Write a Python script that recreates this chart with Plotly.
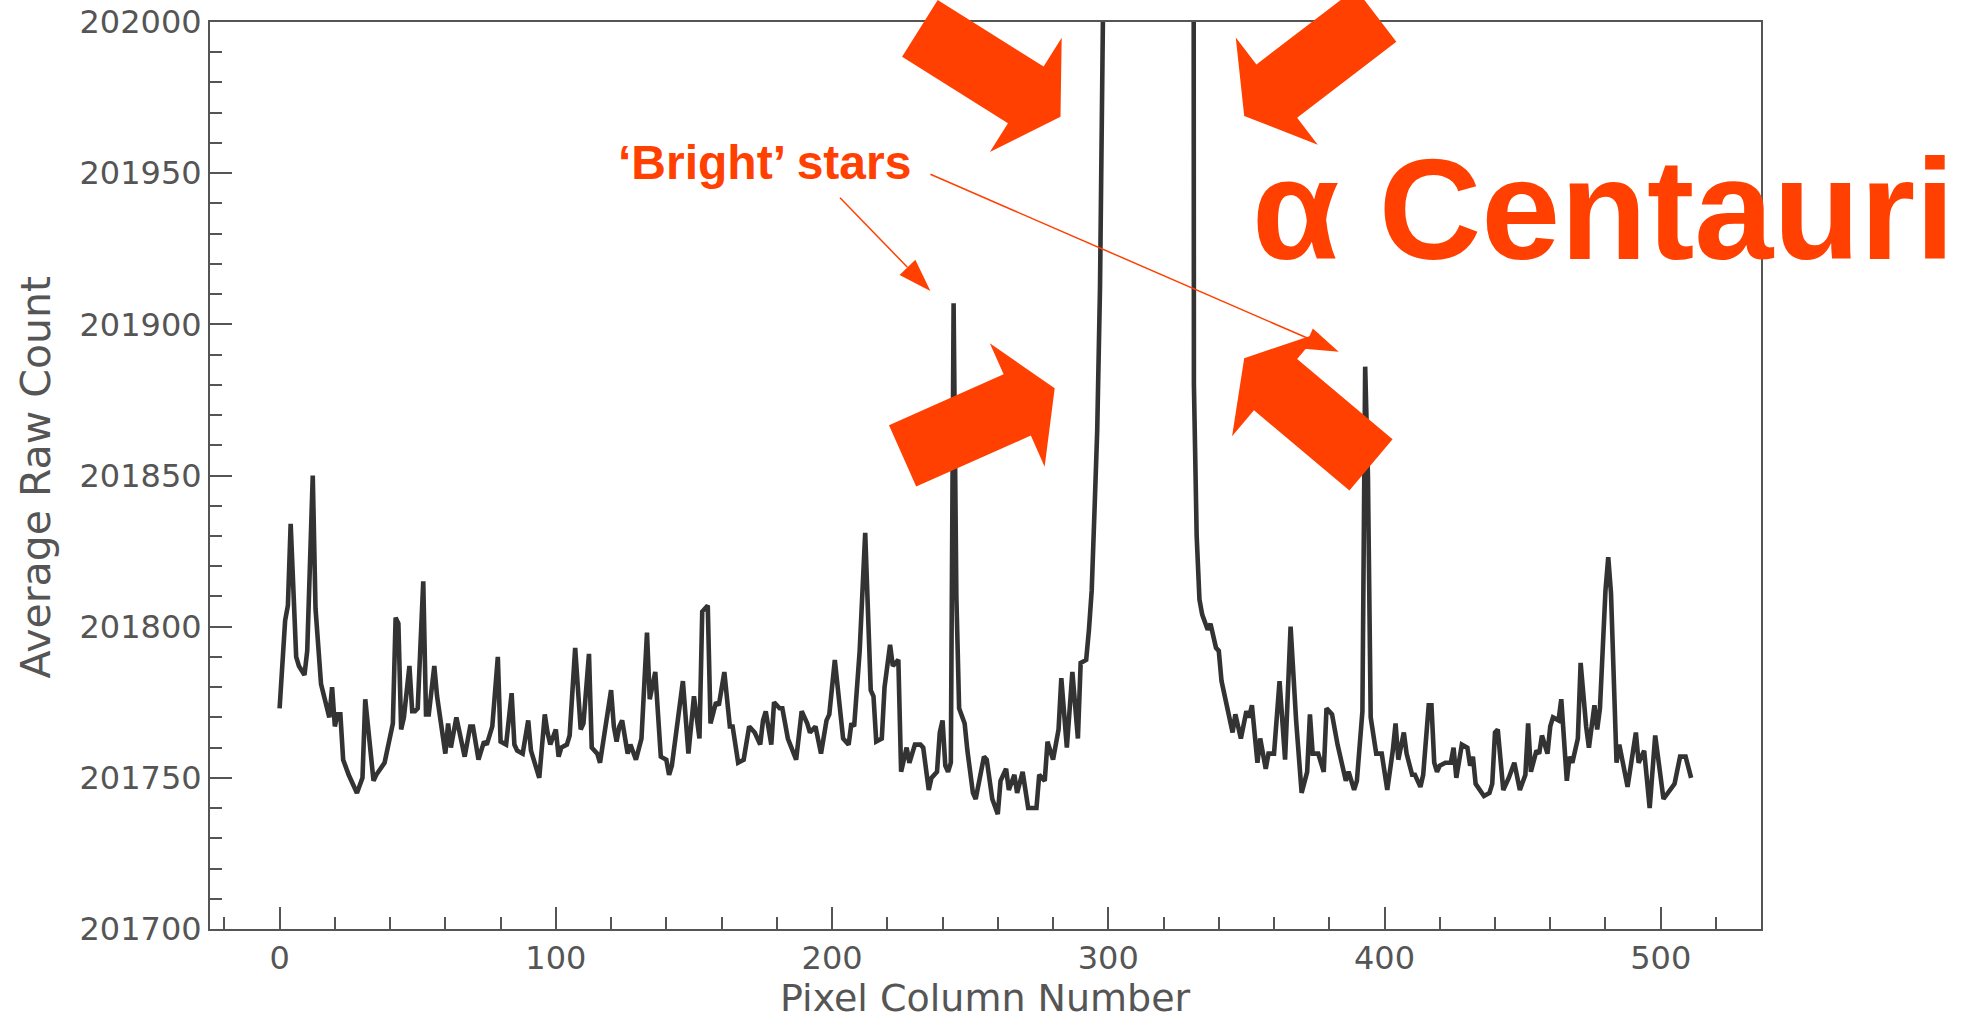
import math
import plotly.graph_objects as go

# Average raw count per CCD pixel column (alpha Centauri saturates the middle columns)
pixel_column = [
    0, 1, 2, 3, 4, 6, 7, 9, 10, 12, 13, 15, 17, 18, 19, 20, 21, 22, 23, 25,
    28, 30, 31, 34, 35, 38, 41, 42, 43, 44, 45, 47, 48, 49, 50, 52, 53, 54, 56, 57,
    60, 61, 62, 64, 67, 69, 70, 72, 74, 75, 77, 79, 80, 82, 84, 85, 86, 88, 90, 91,
    94, 96, 97, 98, 100, 101, 102, 104, 105, 107, 109, 110, 112, 113, 115, 116, 118, 120, 121, 122,
    123, 124, 126, 127, 129, 131, 133, 134, 136, 138, 140, 141, 142, 146, 148, 150, 152, 153, 155, 156,
    158, 159, 161, 163, 164, 166, 168, 169, 170, 172, 174, 175, 176, 178, 179, 181, 182, 184, 187, 189,
    191, 192, 194, 196, 198, 199, 201, 204, 206, 207, 208, 210, 212, 214, 215, 216, 218, 219, 221, 222,
    224, 225, 227, 228, 230, 232, 233, 235, 236, 238, 239, 240, 241, 242, 243, 244, 245, 246, 248, 249,
    251, 252, 255, 256, 258, 260, 261, 263, 264, 266, 267, 269, 271, 274, 275, 277, 278, 280, 281, 282,
    283, 285, 287, 289, 290, 292, 293, 294, 295, 296, 297, 298, 299, 300, 303, 306, 309, 312, 315, 318,
    321, 324, 327, 329, 330, 331, 332, 333, 334, 336, 337, 339, 340, 341, 342, 344, 345, 346, 348, 350,
    351, 352, 354, 355, 357, 358, 360, 362, 364, 366, 368, 370, 372, 373, 374, 376, 378, 379, 381, 383,
    384, 386, 387, 389, 390, 392, 393, 394, 395, 397, 399, 401, 403, 404, 405, 407, 408, 410, 411, 413,
    414, 416, 417, 418, 419, 420, 422, 424, 425, 426, 428, 430, 431, 432, 433, 436, 438, 439, 440, 441,
    443, 445, 447, 449, 451, 452, 453, 455, 456, 457, 459, 460, 461, 463, 464, 465, 466, 467, 468, 470,
    471, 473, 474, 476, 477, 478, 480, 481, 482, 484, 485, 488, 491, 492, 494, 496, 498, 501, 504, 505,
    507, 509, 511,
]
avg_raw_count = [
    201773, 201790, 201802, 201807, 201834, 201790, 201787, 201784, 201792, 201850, 201806, 201781, 201773, 201770, 201780, 201767, 201771, 201771, 201756, 201751,
    201745, 201750, 201776, 201749, 201751, 201755, 201768, 201803, 201801, 201766, 201770, 201787, 201772, 201772, 201773, 201815, 201771, 201771, 201787, 201777,
    201758, 201768, 201760, 201770, 201757, 201767, 201767, 201756, 201762, 201761, 201767, 201790, 201762, 201761, 201778, 201761, 201759, 201758, 201769, 201759,
    201750, 201771, 201765, 201761, 201766, 201757, 201760, 201761, 201764, 201793, 201766, 201768, 201791, 201760, 201758, 201755, 201767, 201779, 201767, 201762,
    201767, 201769, 201758, 201761, 201756, 201763, 201798, 201776, 201785, 201757, 201756, 201751, 201754, 201782, 201758, 201777, 201763, 201805, 201807, 201768,
    201775, 201774, 201785, 201767, 201767, 201755, 201756, 201761, 201767, 201765, 201761, 201769, 201772, 201761, 201775, 201773, 201773, 201763, 201756, 201772,
    201768, 201765, 201767, 201758, 201769, 201771, 201789, 201763, 201761, 201768, 201767, 201792, 201831, 201779, 201777, 201762, 201763, 201780, 201794, 201787,
    201789, 201752, 201760, 201755, 201761, 201761, 201760, 201746, 201750, 201752, 201765, 201769, 201754, 201752, 201755, 201907, 201810, 201773, 201768, 201759,
    201745, 201743, 201757, 201756, 201743, 201738, 201749, 201753, 201746, 201751, 201745, 201752, 201740, 201740, 201751, 201749, 201762, 201756, 201762, 201766,
    201783, 201760, 201785, 201763, 201788, 201789, 201799, 201812, 201838, 201865, 201912, 201965, 202080, 202600, 203900, 205200, 206100, 206600, 206800, 206500,
    205900, 204800, 203600, 203500, 203500, 201880, 201830, 201809, 201804, 201799, 201801, 201793, 201792, 201782, 201778, 201769, 201765, 201771, 201763, 201772,
    201770, 201774, 201755, 201763, 201753, 201758, 201758, 201782, 201756, 201800, 201769, 201745, 201752, 201771, 201758, 201758, 201752, 201773, 201771, 201761,
    201757, 201749, 201752, 201746, 201749, 201772, 201886, 201850, 201770, 201758, 201758, 201746, 201759, 201768, 201756, 201765, 201758, 201751, 201751, 201747,
    201751, 201774, 201774, 201755, 201752, 201754, 201755, 201755, 201760, 201750, 201761, 201760, 201754, 201757, 201748, 201744, 201745, 201748, 201765, 201766,
    201746, 201750, 201755, 201746, 201751, 201768, 201752, 201759, 201758, 201764, 201758, 201767, 201770, 201769, 201776, 201761, 201749, 201757, 201755, 201763,
    201788, 201767, 201760, 201774, 201766, 201773, 201812, 201823, 201811, 201755, 201761, 201747, 201765, 201755, 201759, 201740, 201764, 201743, 201747, 201748,
    201757, 201757, 201750,
]

x_ticks = [0, 100, 200, 300, 400, 500]
y_ticks = [201700, 201750, 201800, 201850, 201900, 201950, 202000]

ORANGE = "#ff4000"
GREY = "#555555"
W, H = 1970, 1020
M_L, M_R, M_T, M_B = 210, 209, 22, 91
PW, PH = W - M_L - M_R, H - M_T - M_B


def px(X, Y):
    """Figure pixel -> paper coordinates."""
    return (X - M_L) / PW, (H - M_B - Y) / PH


def block_arrow(tail, tip, shaft=67, head_w=135, head_l=41):
    tx, ty = tail
    hx, hy = tip
    L = math.hypot(hx - tx, hy - ty)
    dx, dy = (hx - tx) / L, (hy - ty) / L
    nx, ny = -dy, dx
    bx, by = hx - head_l * dx, hy - head_l * dy
    pts = [
        (tx + nx * shaft / 2, ty + ny * shaft / 2),
        (bx + nx * shaft / 2, by + ny * shaft / 2),
        (bx + nx * head_w / 2, by + ny * head_w / 2),
        (hx, hy),
        (bx - nx * head_w / 2, by - ny * head_w / 2),
        (bx - nx * shaft / 2, by - ny * shaft / 2),
        (tx - nx * shaft / 2, ty - ny * shaft / 2),
    ]
    path = "M " + " L ".join("%.5f,%.5f" % px(*p) for p in pts) + " Z"
    return dict(type="path", path=path, xref="paper", yref="paper",
                fillcolor=ORANGE, line=dict(width=0), layer="above")


def thin_arrow(start, tip, head_w=22, head_l=33):
    sx, sy = start
    hx, hy = tip
    L = math.hypot(hx - sx, hy - sy)
    dx, dy = (hx - sx) / L, (hy - sy) / L
    nx, ny = -dy, dx
    bx, by = hx - head_l * dx, hy - head_l * dy
    x0, y0 = px(sx, sy)
    x1, y1 = px(bx, by)
    line = dict(type="line", x0=x0, y0=y0, x1=x1, y1=y1, xref="paper", yref="paper",
                line=dict(color=ORANGE, width=1.5), layer="above")
    pts = [(bx + nx * head_w / 2, by + ny * head_w / 2), (hx, hy),
           (bx - nx * head_w / 2, by - ny * head_w / 2)]
    head = dict(type="path", path="M " + " L ".join("%.5f,%.5f" % px(*p) for p in pts) + " Z",
                xref="paper", yref="paper", fillcolor=ORANGE, line=dict(width=0), layer="above")
    return [line, head]


fig = go.Figure(
    go.Scatter(
        x=pixel_column, y=avg_raw_count, mode="lines",
        line=dict(color="#333333", width=4.6), hoverinfo="skip", showlegend=False,
    )
)

axis_common = dict(
    showgrid=False, zeroline=False, showline=True, linecolor=GREY, linewidth=2,
    mirror=True, ticks="inside", ticklen=22, tickwidth=2, tickcolor=GREY,
    tickfont=dict(family="DejaVu Sans", size=32, color=GREY),
)

fig.update_layout(
    width=W, height=H,
    margin=dict(l=M_L, r=M_R, t=M_T, b=M_B, autoexpand=False),
    paper_bgcolor="white", plot_bgcolor="white",
    xaxis=dict(range=[-25.2, 536.3], tickvals=x_ticks,
               minor=dict(dtick=20, tick0=0, ticks="inside", ticklen=12, tickwidth=2, tickcolor=GREY),
               **axis_common),
    yaxis=dict(range=[201700, 202000], tickvals=y_ticks, tickformat="d",
               minor=dict(dtick=10, tick0=201700, ticks="inside", ticklen=12, tickwidth=2, tickcolor=GREY),
               **axis_common),
)

shapes = []
# Four block arrows closing in on alpha Centauri
for tail, tip in [((919.9, 28.4), (1060.5, 116.7)),
                  ((1376.0, 15.2), (1244.2, 116.0)),
                  ((902.6, 455.9), (1054.7, 388.3)),
                  ((1371.0, 465.0), (1244.2, 358.2))]:
    shapes.append(block_arrow(tail, tip))
# Pointers from the label to the two bright stars
shapes += thin_arrow((840.0, 197.7), (930.4, 291.0))
shapes += thin_arrow((930.4, 174.3), (1338.7, 351.7))
fig.update_layout(shapes=shapes)

annotations = []
ax_, ay_ = px(985.5, 997.6)
annotations.append(dict(text="Pixel Column Number", x=ax_, y=ay_, xref="paper", yref="paper",
                        xanchor="center", yanchor="middle", showarrow=False,
                        font=dict(family="DejaVu Sans", size=38, color=GREY)))
ax_, ay_ = px(35.9, 477.5)
annotations.append(dict(text="Average Raw Count", x=ax_, y=ay_, xref="paper", yref="paper",
                        xanchor="center", yanchor="middle", showarrow=False, textangle=-90,
                        font=dict(family="DejaVu Sans", size=41, color=GREY)))
ax_, ay_ = px(616, 162.7)
annotations.append(dict(text="\u2018Bright\u2019 stars", x=ax_, y=ay_, xref="paper", yref="paper",
                        xanchor="left", yanchor="middle", showarrow=False,
                        font=dict(family="Liberation Sans", size=48, color=ORANGE, weight="bold")))
ax_, ay_ = px(1250, 209.8)
annotations.append(dict(text="\u03b1 Centauri", x=ax_, y=ay_, xref="paper", yref="paper",
                        xanchor="left", yanchor="middle", showarrow=False,
                        font=dict(family="Liberation Sans", size=142, color=ORANGE, weight="bold")))
fig.update_layout(annotations=annotations)

fig.write_html("out.html")
